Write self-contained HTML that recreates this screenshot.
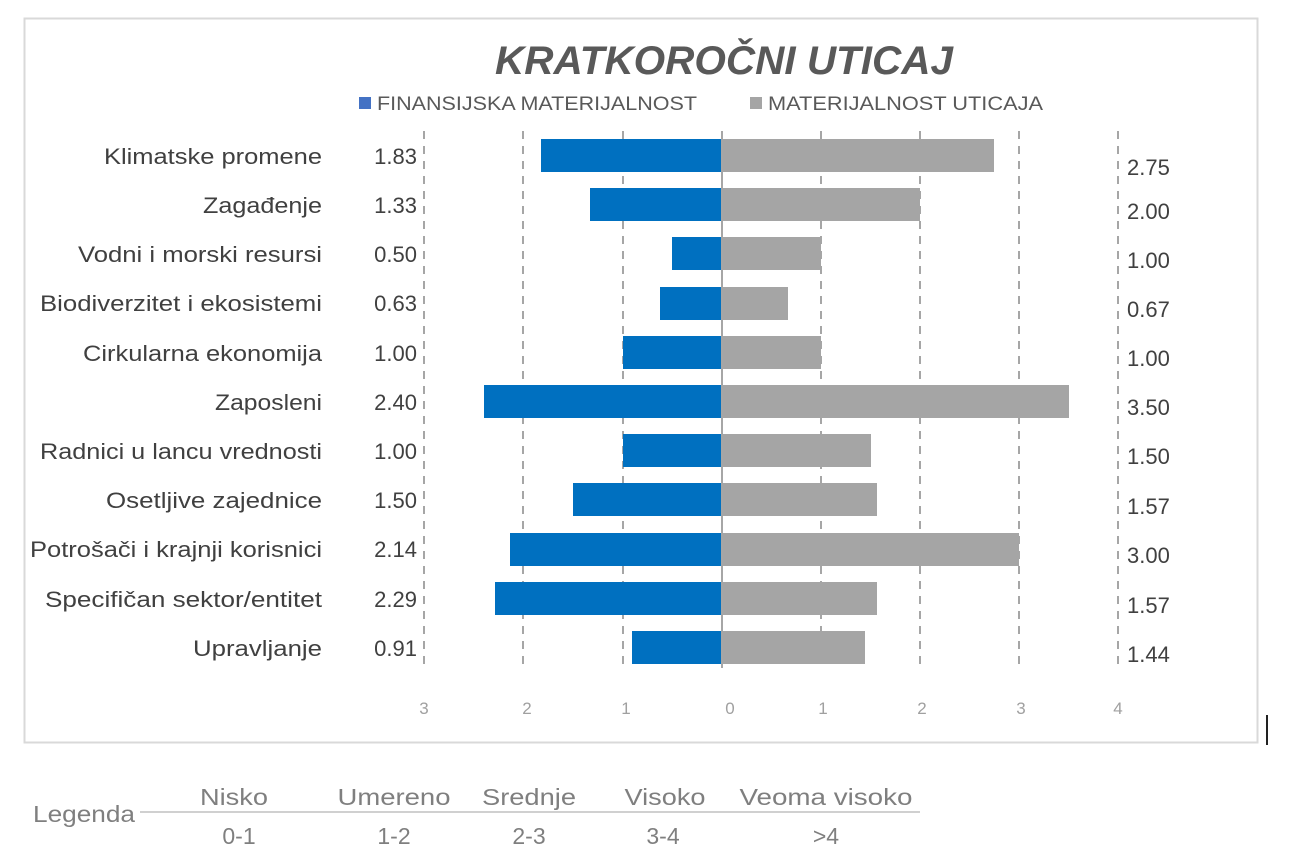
<!DOCTYPE html>
<html><head><meta charset="utf-8"><style>
html,body{margin:0;padding:0;background:#fff;}
svg{display:block;font-family:"Liberation Sans",sans-serif;}
</style></head><body>
<svg width="1293" height="866" viewBox="0 0 1293 866" xmlns="http://www.w3.org/2000/svg">
<rect x="24.5" y="18.5" width="1233" height="724" fill="#fff" stroke="#d9d9d9" stroke-width="2"/>
<line x1="1267" y1="715" x2="1267" y2="745" stroke="#222" stroke-width="2"/>
<text x="724" y="74" text-anchor="middle" font-size="40" font-weight="bold" font-style="italic" fill="#595959" textLength="458" lengthAdjust="spacingAndGlyphs">KRATKOROČNI UTICAJ</text>
<rect x="359" y="97" width="12" height="12" fill="#4472C4"/>
<text x="377" y="110" font-size="19" fill="#595959" textLength="320" lengthAdjust="spacingAndGlyphs">FINANSIJSKA MATERIJALNOST</text>
<rect x="750" y="97" width="12" height="12" fill="#a5a5a5"/>
<text x="768" y="110" font-size="19" fill="#595959" textLength="275" lengthAdjust="spacingAndGlyphs">MATERIJALNOST UTICAJA</text>
<g stroke="#a6a6a6" stroke-width="2" stroke-dasharray="8,7">
<line x1="424" y1="131" x2="424" y2="668"/>
<line x1="523" y1="131" x2="523" y2="668"/>
<line x1="623" y1="131" x2="623" y2="668"/>
<line x1="821" y1="131" x2="821" y2="668"/>
<line x1="920" y1="131" x2="920" y2="668"/>
<line x1="1019" y1="131" x2="1019" y2="668"/>
<line x1="1118" y1="131" x2="1118" y2="668"/>
</g>
<g>
<rect x="541" y="139" width="181" height="33" fill="#0070C0"/><rect x="722" y="139" width="272" height="33" fill="#a5a5a5"/>
<rect x="590" y="188" width="132" height="33" fill="#0070C0"/><rect x="722" y="188" width="198" height="33" fill="#a5a5a5"/>
<rect x="672" y="237" width="50" height="33" fill="#0070C0"/><rect x="722" y="237" width="99" height="33" fill="#a5a5a5"/>
<rect x="660" y="287" width="62" height="33" fill="#0070C0"/><rect x="722" y="287" width="66" height="33" fill="#a5a5a5"/>
<rect x="623" y="336" width="99" height="33" fill="#0070C0"/><rect x="722" y="336" width="99" height="33" fill="#a5a5a5"/>
<rect x="484" y="385" width="238" height="33" fill="#0070C0"/><rect x="722" y="385" width="347" height="33" fill="#a5a5a5"/>
<rect x="623" y="434" width="99" height="33" fill="#0070C0"/><rect x="722" y="434" width="149" height="33" fill="#a5a5a5"/>
<rect x="573" y="483" width="149" height="33" fill="#0070C0"/><rect x="722" y="483" width="155" height="33" fill="#a5a5a5"/>
<rect x="510" y="533" width="212" height="33" fill="#0070C0"/><rect x="722" y="533" width="297" height="33" fill="#a5a5a5"/>
<rect x="495" y="582" width="227" height="33" fill="#0070C0"/><rect x="722" y="582" width="155" height="33" fill="#a5a5a5"/>
<rect x="632" y="631" width="90" height="33" fill="#0070C0"/><rect x="722" y="631" width="143" height="33" fill="#a5a5a5"/>
</g>
<line x1="722" y1="131" x2="722" y2="668" stroke="#a6a6a6" stroke-width="2"/>
<g font-size="22" fill="#404040" text-anchor="end" lengthAdjust="spacingAndGlyphs">
<text x="322" y="164" textLength="218" lengthAdjust="spacingAndGlyphs">Klimatske promene</text>
<text x="322" y="213" textLength="119" lengthAdjust="spacingAndGlyphs">Zagađenje</text>
<text x="322" y="262" textLength="244" lengthAdjust="spacingAndGlyphs">Vodni i morski resursi</text>
<text x="322" y="311" textLength="282" lengthAdjust="spacingAndGlyphs">Biodiverzitet i ekosistemi</text>
<text x="322" y="361" textLength="239" lengthAdjust="spacingAndGlyphs">Cirkularna ekonomija</text>
<text x="322" y="410" textLength="107" lengthAdjust="spacingAndGlyphs">Zaposleni</text>
<text x="322" y="459" textLength="282" lengthAdjust="spacingAndGlyphs">Radnici u lancu vrednosti</text>
<text x="322" y="508" textLength="216" lengthAdjust="spacingAndGlyphs">Osetljive zajednice</text>
<text x="322" y="557" textLength="292" lengthAdjust="spacingAndGlyphs">Potrošači i krajnji korisnici</text>
<text x="322" y="607" textLength="277" lengthAdjust="spacingAndGlyphs">Specifičan sektor/entitet</text>
<text x="322" y="656" textLength="129" lengthAdjust="spacingAndGlyphs">Upravljanje</text>
</g>
<g font-size="22" fill="#404040" text-anchor="end">
<text x="417" y="164">1.83</text>
<text x="417" y="213">1.33</text>
<text x="417" y="262">0.50</text>
<text x="417" y="311">0.63</text>
<text x="417" y="361">1.00</text>
<text x="417" y="410">2.40</text>
<text x="417" y="459">1.00</text>
<text x="417" y="508">1.50</text>
<text x="417" y="557">2.14</text>
<text x="417" y="607">2.29</text>
<text x="417" y="656">0.91</text>
</g>
<g font-size="22" fill="#404040">
<text x="1127" y="175">2.75</text>
<text x="1127" y="219">2.00</text>
<text x="1127" y="268">1.00</text>
<text x="1127" y="317">0.67</text>
<text x="1127" y="366">1.00</text>
<text x="1127" y="415">3.50</text>
<text x="1127" y="464">1.50</text>
<text x="1127" y="514">1.57</text>
<text x="1127" y="563">3.00</text>
<text x="1127" y="613">1.57</text>
<text x="1127" y="662">1.44</text>
</g>
<g font-size="17" fill="#a0a0a0" text-anchor="middle">
<text x="424" y="714">3</text><text x="527" y="714">2</text><text x="626" y="714">1</text><text x="730" y="714">0</text>
<text x="823" y="714">1</text><text x="922" y="714">2</text><text x="1021" y="714">3</text><text x="1118" y="714">4</text>
</g>
<line x1="140" y1="812" x2="920" y2="812" stroke="#d0d0d0" stroke-width="2"/>
<g font-size="23" fill="#7f7f7f" text-anchor="middle">
<text x="84" y="822" textLength="102" lengthAdjust="spacingAndGlyphs">Legenda</text>
<text x="234" y="805" textLength="68" lengthAdjust="spacingAndGlyphs">Nisko</text>
<text x="394" y="805" textLength="113" lengthAdjust="spacingAndGlyphs">Umereno</text>
<text x="529" y="805" textLength="94" lengthAdjust="spacingAndGlyphs">Srednje</text>
<text x="665" y="805" textLength="81" lengthAdjust="spacingAndGlyphs">Visoko</text>
<text x="826" y="805" textLength="173" lengthAdjust="spacingAndGlyphs">Veoma visoko</text>
<text x="239" y="844">0-1</text>
<text x="394" y="844">1-2</text>
<text x="529" y="844">2-3</text>
<text x="663" y="844">3-4</text>
<text x="826" y="844">&gt;4</text>
</g>
</svg>
</body></html>
